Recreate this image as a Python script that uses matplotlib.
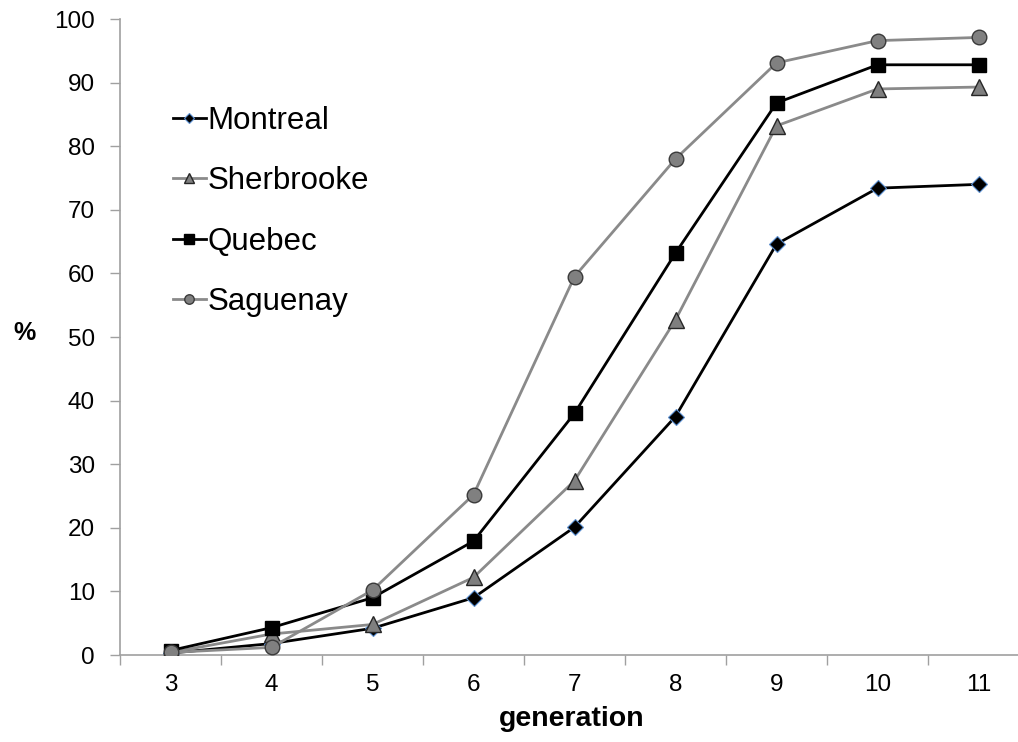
import matplotlib
matplotlib.use("Agg")
import matplotlib.pyplot as plt
from matplotlib.ticker import FixedLocator, NullFormatter

plt.rcParams['font.family'] = ['Liberation Sans', 'DejaVu Sans']

generations = ['3', '4', '5', '6', '7', '8', '9', '10', '11']
montreal = [0.3, 1.8, 4.2, 9.0, 20.1, 37.5, 64.6, 73.4, 74.0]
sherbrooke = [0.4, 3.3, 4.8, 12.2, 27.4, 52.7, 83.2, 89.0, 89.3]
quebec = [0.7, 4.3, 9.0, 17.9, 38.0, 63.2, 86.8, 92.8, 92.8]
saguenay = [0.4, 1.2, 10.2, 25.2, 59.5, 78.0, 93.1, 96.6, 97.1]

W, H = 1018, 742
fig = plt.figure(figsize=(W / 100, H / 100), dpi=100)
ax = fig.add_axes([120 / W, 87 / H, 909 / W, 636 / H])

x = list(range(len(generations)))
ax.plot(x, montreal, color='black', lw=2.0, marker='D', ms=8.5,
        mfc='black', mec='#5b8fd0', mew=0.8, label='Montreal', zorder=3)
ax.plot(x, sherbrooke, color='#8a8a8a', lw=2.0, marker='^', ms=11,
        mfc='#7f7f7f', mec='#262626', mew=1.0, label='Sherbrooke', zorder=3)
ax.plot(x, quebec, color='black', lw=2.0, marker='s', ms=10,
        mfc='black', mec='black', mew=1.0, label='Quebec', zorder=3)
ax.plot(x, saguenay, color='#8a8a8a', lw=2.0, marker='o', ms=10.5,
        mfc='#808080', mec='#3a3a3a', mew=1.0, label='Saguenay', zorder=3)

ax.set_xlim(-0.5, len(generations) - 0.5)
ax.set_ylim(0, 100)
ax.set_xticks(x)
ax.set_xticklabels(generations)
ax.xaxis.set_minor_locator(FixedLocator([i - 0.5 for i in range(len(generations) + 1)]))
ax.xaxis.set_minor_formatter(NullFormatter())
ax.tick_params(axis='x', which='major', length=0, pad=14, labelsize=17.5)
ax.tick_params(axis='x', which='minor', length=7, width=1, color='#a0a0a0', direction='out')
ax.set_yticks(range(0, 101, 10))
ax.tick_params(axis='y', length=7, width=1, color='#a0a0a0', direction='out', pad=11, labelsize=17.5)

for s in ['top', 'right']:
    ax.spines[s].set_visible(False)
for s in ['left', 'bottom']:
    ax.spines[s].set_color('#a0a0a0')
    ax.spines[s].set_linewidth(1.2)

fig.text(572 / W, 1 - 719 / H, 'generation', ha='center', va='center',
         fontsize=20.5, fontweight='bold')
fig.text(24 / W, 1 - 333 / H, '%', ha='center', va='center',
         fontsize=18, fontweight='bold')

leg = ax.legend(loc='upper left', bbox_to_anchor=(173 / W, 1 - 106 / H),
                bbox_transform=fig.transFigure, frameon=False, fontsize=22.5,
                handlelength=1.05, handletextpad=0.05, labelspacing=0.97,
                borderpad=0, borderaxespad=0, markerscale=0.65)

fig.savefig('out.png', dpi=100)
